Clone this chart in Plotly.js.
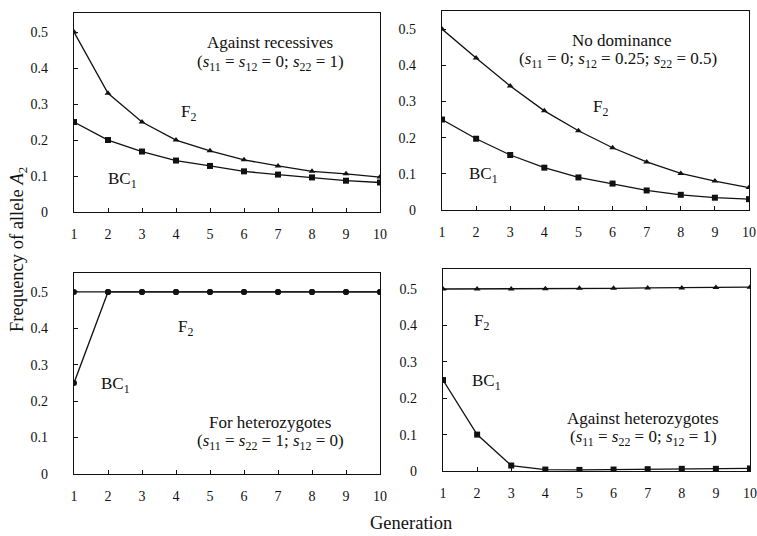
<!DOCTYPE html>
<html><head><meta charset="utf-8">
<script src="https://cdn.plot.ly/plotly-3.0.1.min.js"></script>
<style>html,body{margin:0;padding:0;background:#fff}</style>
</head><body>
<div id="chart" style="width:757px;height:536px"></div>
<script>
const generations = [1,2,3,4,5,6,7,8,9,10];
const xTickLabels = ["1","2","3","4","5","6","7","8","9","10"];
const yTickVals = [0,0.1,0.2,0.3,0.4,0.5];
const yTickLabels = ["0","0.1","0.2","0.3","0.4","0.5"];

// Against recessives
const recF2  = [0.5,0.33,0.25,0.2,0.17,0.145,0.128,0.113,0.106,0.097];
const recBC1 = [0.25,0.2,0.168,0.143,0.128,0.113,0.104,0.096,0.087,0.082];
// No dominance
const nodF2  = [0.5,0.42,0.343,0.274,0.219,0.172,0.133,0.101,0.08,0.062];
const nodBC1 = [0.25,0.197,0.152,0.117,0.09,0.073,0.054,0.042,0.034,0.03];
// For heterozygotes
const forF2  = [0.5,0.5,0.5,0.5,0.5,0.5,0.5,0.5,0.5,0.5];
const forBC1 = [0.25,0.5,0.5,0.5,0.5,0.5,0.5,0.5,0.5,0.5];
// Against heterozygotes
const agF2   = [0.5,0.5,0.5,0.501,0.502,0.502,0.503,0.503,0.504,0.505];
const agBC1  = [0.25,0.1,0.015,0.004,0.003,0.004,0.005,0.006,0.006,0.007];

const FONT = "Liberation Serif";
const line = {color:"#111", width:1.3};

function tr(y, xa, ya, sym, size){
  return {x:generations, y:y, xaxis:xa, yaxis:ya, type:"scatter", mode:"lines+markers",
    line:line, marker:{symbol:sym, size:size, color:"#111"}, showlegend:false, hoverinfo:"skip"};
}
const data = [
  tr(recF2,"x","y","triangle-up",6), tr(recBC1,"x","y","square",6),
  tr(nodF2,"x2","y2","triangle-up",6), tr(nodBC1,"x2","y2","square",6),
  tr(forF2,"x3","y3","circle",6), tr(forBC1,"x3","y3","circle",6),
  tr(agF2,"x4","y4","triangle-up",6), tr(agBC1,"x4","y4","square",6)
];

function xax(dom, anchor){
  return {domain:dom, anchor:anchor, range:[1,10], tickvals:generations, ticktext:xTickLabels,
    ticks:"inside", ticklen:4, tickcolor:"#111", showline:true, mirror:true, linecolor:"#111", linewidth:1.3,
    showgrid:false, zeroline:false, ticklabelstandoff:9, tickfont:{family:FONT, size:14, color:"#111"}};
}
function yax(dom, anchor, top){
  return {domain:dom, anchor:anchor, range:[0,top], tickvals:yTickVals, ticktext:yTickLabels,
    ticks:"inside", ticklen:4, tickcolor:"#111", showline:true, mirror:true, linecolor:"#111", linewidth:1.3,
    showgrid:false, zeroline:false, ticklabelstandoff:22, tickfont:{family:FONT, size:14, color:"#111"}};
}
function px(x){return x/757;}
function py(y){return 1-y/536;}

function ann(text, x, y, size){
  return {text:text, x:px(x), y:py(y), xref:"paper", yref:"paper", showarrow:false,
    xanchor:"center", yanchor:"middle", font:{family:FONT, size:size||17, color:"#111"}};
}
const EQ = "&nbsp;=&nbsp;";
const s = n => "<i>s</i><sub>" + n + "</sub>";

const layout = {
  width:757, height:536, margin:{l:0,r:0,t:0,b:0},
  paper_bgcolor:"#fff", plot_bgcolor:"#fff",
  xaxis: xax([px(74),px(380)],"y"),  yaxis: yax([py(212),py(13)],"x",0.553),
  xaxis2:xax([px(442),px(749)],"y2"), yaxis2:yax([py(210),py(11)],"x2",0.55),
  xaxis3:xax([px(74),px(380)],"y3"), yaxis3:yax([py(474),py(273)],"x3",0.552),
  xaxis4:xax([px(443),px(750)],"y4"), yaxis4:yax([py(471),py(269)],"x4",0.555),
  annotations:[
    ann("Against recessives",270,43),
    ann("(" + s(11) + EQ + s(12) + EQ + "0; " + s(22) + EQ + "1)",270,63),
    ann("F<sub>2</sub>",188,113),
    ann("BC<sub>1</sub>",122,180),
    ann("No dominance",622,40),
    ann("(" + s(11) + EQ + "0; " + s(12) + EQ + "0.25; " + s(22) + EQ + "0.5)",618,60),
    ann("F<sub>2</sub>",600,108),
    ann("BC<sub>1</sub>",483,175),
    ann("F<sub>2</sub>",185,328),
    ann("BC<sub>1</sub>",115,385),
    ann("For heterozygotes",270,422),
    ann("(" + s(11) + EQ + s(22) + EQ + "1; " + s(12) + EQ + "0)",270,442),
    ann("F<sub>2</sub>",482,322),
    ann("BC<sub>1</sub>",487,382),
    ann("Against heterozygotes",643,418),
    ann("(" + s(11) + EQ + s(22) + EQ + "0; " + s(12) + EQ + "1)",643,438),
    {text:"Frequency of allele <i>A</i><sub>2</sub>", x:px(18), y:py(250), xref:"paper", yref:"paper",
      showarrow:false, textangle:-90, xanchor:"center", yanchor:"middle", font:{family:FONT, size:18.5, color:"#111"}},
    {text:"Generation", x:px(411), y:py(523), xref:"paper", yref:"paper",
      showarrow:false, xanchor:"center", yanchor:"middle", font:{family:FONT, size:18.5, color:"#111"}}
  ]
};
Plotly.newPlot("chart", data, layout, {displayModeBar:false, staticPlot:true});
</script>
</body></html>
